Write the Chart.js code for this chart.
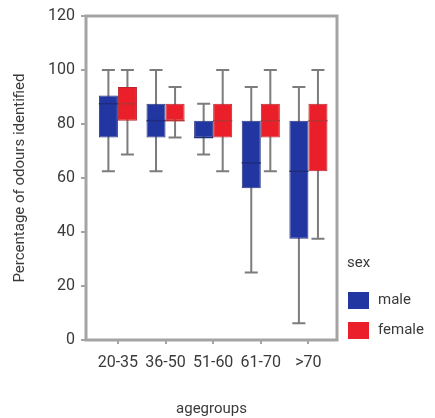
<!DOCTYPE html>
<html>
<head>
<meta charset="utf-8">
<script src="https://cdn.jsdelivr.net/npm/chart.js@4"></script>
<style>
  html, body { margin: 0; padding: 0; background: #fff; }
  #wrap { width: 435px; height: 418px; }
</style>
</head>
<body>
<div id="wrap"><canvas id="box-chart" width="435" height="418"></canvas></div>
<script>
// age groups on the x axis, one box per sex
const ageGroups = ['20-35', '36-50', '51-60', '61-70', '>70'];
const groupPos = [1, 2, 3, 4, 5];

const maleMin    = [62.5, 62.5, 68.75, 25, 6.25];
const maleQ1     = [75, 75, 75, 56.25, 37.5];
const maleMedian = [87.5, 81.25, 75, 65.6, 62.5];
const maleQ3     = [90.6, 87.5, 81.25, 81.25, 81.25];
const maleMax    = [100, 100, 87.5, 93.75, 93.75];

const femaleMin    = [68.75, 75, 62.5, 62.5, 37.5];
const femaleQ1     = [81.25, 81.25, 75, 75, 62.5];
const femaleMedian = [87.5, 81.25, 81.25, 81.25, 81.25];
const femaleQ3     = [93.75, 87.5, 87.5, 87.5, 87.5];
const femaleMax    = [100, 93.75, 100, 100, 100];

const yTicks = [0, 20, 40, 60, 80, 100, 120];

const FONT = "Roboto, 'Liberation Sans', sans-serif";
const TEXT = '#3a3a3a';
const FRAME = '#a4a4a4';

const boxes = (q1, q3) => groupPos.map((x, i) => ({ x: x, y: [q1[i], q3[i]] }));

// whiskers behind the boxes, medians on top
const boxPlot = {
  id: 'boxPlot',
  beforeDatasetsDraw(chart) {
    const ctx = chart.ctx;
    const y = chart.scales.y;
    ctx.save();
    ctx.strokeStyle = '#7c7c7c';
    ctx.lineWidth = 2;
    chart.data.datasets.forEach((ds, di) => {
      chart.getDatasetMeta(di).data.forEach((bar, i) => {
        const lo = y.getPixelForValue(ds.whiskerLow[i]);
        const hi = y.getPixelForValue(ds.whiskerHigh[i]);
        const cap = 6.5;
        ctx.beginPath();
        ctx.moveTo(bar.x, lo); ctx.lineTo(bar.x, hi);
        ctx.moveTo(bar.x - cap, lo); ctx.lineTo(bar.x + cap, lo);
        ctx.moveTo(bar.x - cap, hi); ctx.lineTo(bar.x + cap, hi);
        ctx.stroke();
      });
    });
    ctx.restore();
  },
  afterDatasetsDraw(chart) {
    const ctx = chart.ctx;
    const y = chart.scales.y;
    const a = chart.chartArea;
    ctx.save();
    chart.data.datasets.forEach((ds, di) => {
      ctx.strokeStyle = ds.medianColor;
      ctx.lineWidth = 1.5;
      chart.getDatasetMeta(di).data.forEach((bar, i) => {
        const m = y.getPixelForValue(ds.median[i]);
        ctx.beginPath();
        ctx.moveTo(bar.x - bar.width / 2, m);
        ctx.lineTo(bar.x + bar.width / 2, m);
        ctx.stroke();
      });
    });
    // plot frame
    ctx.strokeStyle = FRAME;
    ctx.lineWidth = 3;
    ctx.strokeRect(a.left, a.top, a.right - a.left, a.bottom - a.top);

    // legend
    ctx.font = '15px ' + FONT;
    ctx.fillStyle = TEXT;
    ctx.textBaseline = 'middle';
    const lx = a.right + 10;
    ctx.fillText('sex', lx, a.bottom - 77);
    chart.data.datasets.forEach((ds, di) => {
      const cy = a.bottom - 40 + di * 30;
      ctx.fillStyle = ds.backgroundColor;
      ctx.fillRect(lx + 1, cy - 8, 21, 17);
      ctx.fillStyle = TEXT;
      ctx.fillText(ds.label, lx + 31, cy);
    });
    ctx.restore();
  }
};

const ctx = document.getElementById('box-chart').getContext('2d');
new Chart(ctx, {
  type: 'bar',
  data: {
    datasets: [
      {
        label: 'male',
        data: boxes(maleQ1, maleQ3),
        whiskerLow: maleMin, whiskerHigh: maleMax, median: maleMedian,
        backgroundColor: '#2236a2',
        borderColor: '#2a3580',
        medianColor: '#1f2c7c',
        borderWidth: 1,
        borderSkipped: false
      },
      {
        label: 'female',
        data: boxes(femaleQ1, femaleQ3),
        whiskerLow: femaleMin, whiskerHigh: femaleMax, median: femaleMedian,
        backgroundColor: '#ea1f29',
        borderColor: '#b8262c',
        medianColor: '#b53434',
        borderWidth: 1,
        borderSkipped: false
      }
    ]
  },
  options: {
    responsive: false,
    animation: false,
    layout: { padding: { top: 16, right: 98, left: 0, bottom: 0 } },
    datasets: { bar: { categoryPercentage: 0.8, barPercentage: 1 } },
    plugins: { legend: { display: false }, tooltip: { enabled: false } },
    scales: {
      x: {
        type: 'linear',
        offset: false,
        min: 0.33,
        max: 5.6,
        afterBuildTicks: s => { s.ticks = groupPos.map(v => ({ value: v })); },
        afterFit: s => { s.height = 78; },
        grid: { offset: false, drawOnChartArea: false, drawTicks: true, tickLength: 4, color: FRAME, lineWidth: 2 },
        border: { display: false },
        ticks: {
          color: TEXT,
          font: { family: FONT, size: 16 },
          padding: 9,
          maxRotation: 0,
          autoSkip: false,
          callback: v => ageGroups[groupPos.indexOf(v)]
        },
        title: {
          display: true,
          text: 'agegroups',
          color: TEXT,
          font: { family: FONT, size: 15 },
          padding: { top: 0, bottom: 0 }
        }
      },
      y: {
        min: 0,
        max: 120,
        afterBuildTicks: s => { s.ticks = yTicks.map(v => ({ value: v })); },
        afterFit: s => { s.width = 86; },
        grid: { drawOnChartArea: false, drawTicks: true, tickLength: 5, color: FRAME, lineWidth: 2 },
        border: { display: false },
        ticks: {
          color: TEXT,
          font: { family: FONT, size: 16 },
          padding: 6
        },
        title: {
          display: true,
          text: 'Percentage of odours identified',
          color: TEXT,
          font: { family: FONT, size: 15 },
          padding: { top: 11, bottom: 0 }
        }
      }
    }
  },
  plugins: [boxPlot]
});
</script>
</body>
</html>
